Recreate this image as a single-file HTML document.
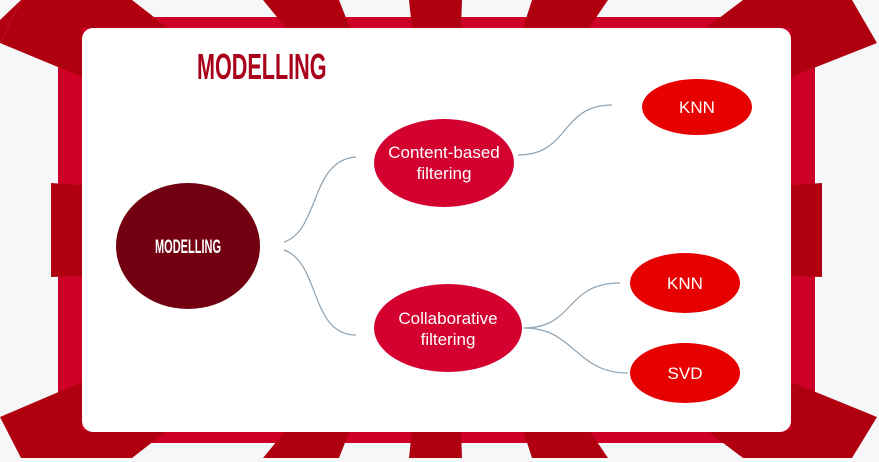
<!DOCTYPE html>
<html><head><style>
html,body{margin:0;padding:0;background:#f6f7f9;}
svg{display:block}
</style></head><body>
<svg width="879" height="462" viewBox="0 0 879 462" xmlns="http://www.w3.org/2000/svg">
<rect width="879" height="462" fill="#f6f7f9"/>
<rect x="58" y="17" width="757" height="426" fill="#cf0027"/>
<g fill="#b0000f">
<polygon points="0,43 0,20 21,0"/>
<polygon points="0,43 21,0 132,0 168,28 82,28 82,77"/>
<polygon points="263,0 339,0 350,28 286,28"/>
<polygon points="409,0 462,0 461,28 412,28"/>
<polygon points="532,0 608,0 589,28 523,28"/>
<polygon points="743,0 852,0 877,43 791,77 791,28 706,28"/>
<polygon points="0,417 82,382 82,430 168,430 132,458 21,458"/>
<polygon points="286,430 350,430 339,458 263,458"/>
<polygon points="412,430 461,430 462,458 409,458"/>
<polygon points="523,430 589,430 608,458 532,458"/>
<polygon points="791,382 877,417 852,458 743,458 706,430 791,430"/>
<polygon points="51,183 82,185 82,276 51,277"/>
<polygon points="791,185 822,183 822,277 791,276"/>
</g>
<rect x="82" y="28" width="709" height="404" rx="11" fill="#fff"/>
<text x="197" y="79" font-family="Liberation Sans, sans-serif" font-weight="bold" font-size="36" fill="#a8001a" transform="translate(197 0) scale(0.6 1) translate(-197 0)">MODELLING</text>
<g fill="none" stroke="#8ea2b2" stroke-width="1.2">
<path d="M284,242 C320,230 310,160 356,157"/>
<path d="M284,250 C320,262 310,335 356,335"/>
<path d="M518,155 C570,155 560,105 612,105"/>
<path d="M524,328 C575,328 565,283 620,283"/>
<path d="M524,328 C575,328 575,373 628,373"/>
</g>
<ellipse cx="188" cy="246" rx="72" ry="63" fill="#720010"/>
<ellipse cx="444" cy="163" rx="70" ry="44" fill="#d30030"/>
<ellipse cx="448" cy="328" rx="74" ry="44" fill="#d30030"/>
<ellipse cx="697" cy="107" rx="55" ry="28" fill="#e60000"/>
<ellipse cx="685" cy="283" rx="55" ry="30" fill="#e60000"/>
<ellipse cx="685" cy="373" rx="55" ry="30" fill="#e60000"/>
<text x="188" y="253" text-anchor="middle" font-family="Liberation Sans, sans-serif" font-weight="bold" font-size="19" fill="#fff" transform="translate(188 0) scale(0.58 1) translate(-188 0)">MODELLING</text>
<g font-family="Liberation Sans, sans-serif" font-size="17" fill="#fff" text-anchor="middle">
<text x="444" y="158">Content-based</text>
<text x="444" y="179">filtering</text>
<text x="448" y="324">Collaborative</text>
<text x="448" y="345">filtering</text>
<text x="697" y="113">KNN</text>
<text x="685" y="289">KNN</text>
<text x="685" y="379">SVD</text>
</g>
</svg>
</body></html>
